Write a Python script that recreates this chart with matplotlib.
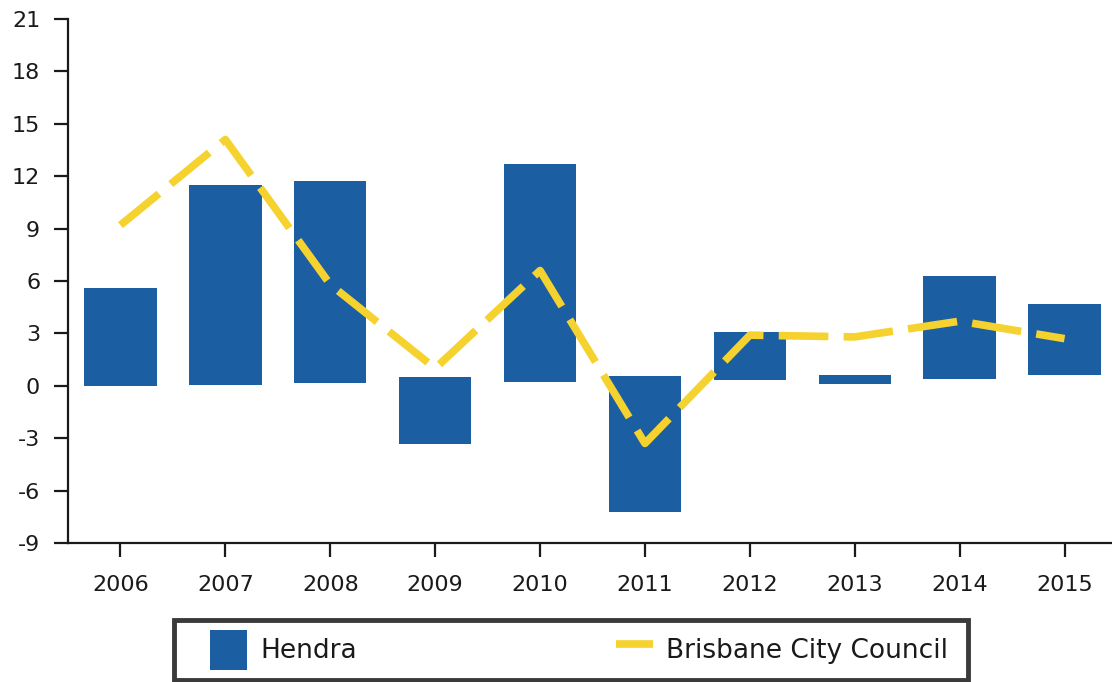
import matplotlib
matplotlib.use("Agg")
import matplotlib.pyplot as plt
from matplotlib.patches import Rectangle
import numpy as np

years = ["2006", "2007", "2008", "2009", "2010", "2011", "2012", "2013", "2014", "2015"]
hendra_top = [5.6, 11.5, 11.7, 0.5, 12.7, 0.55, 3.1, 0.6, 6.3, 4.7]
hendra_bottom = [0.0, 0.05, 0.15, -3.35, 0.2, -7.25, 0.35, 0.1, 0.4, 0.6]
brisbane = [9.2, 14.1, 5.8, 1.0, 6.6, -3.3, 2.9, 2.8, 3.7, 2.7]
yticks = [-9, -6, -3, 0, 3, 6, 9, 12, 15, 18, 21]

plt.rcParams['font.family'] = ['DejaVu Sans']

W, H = 1112, 682
fig = plt.figure(figsize=(W / 100, H / 100), dpi=100)
ax = fig.add_axes([68/W, 1 - 543/H, (1117 - 68)/W, 524/H])

x = np.arange(len(years))
heights = np.array(hendra_top) - np.array(hendra_bottom)
bars = ax.bar(x, heights, bottom=hendra_bottom, width=0.69, color="#1c5ea2",
              edgecolor="none", label="Hendra", zorder=2)
line, = ax.plot(x, brisbane, color="#f5d22e", lw=5.5, linestyle=(0, (6.5, 2.0)),
                dash_capstyle="butt", label="Brisbane City Council", zorder=3)

ax.set_xlim(-0.5, 9.5)
ax.set_ylim(-9, 21)
ax.set_yticks(yticks)
ax.set_yticklabels([str(v) for v in yticks])
ax.set_xticks(x)
ax.set_xticklabels(years)

for s in ["top", "right"]:
    ax.spines[s].set_visible(False)
for s in ["left", "bottom"]:
    ax.spines[s].set_linewidth(1.6)
    ax.spines[s].set_color("#1a1a1a")

ax.tick_params(axis="y", length=10, width=1.6, pad=10, labelsize=16, colors="#1a1a1a")
ax.tick_params(axis="x", length=10, width=1.6, pad=13, labelsize=16, colors="#1a1a1a")

# legend frame drawn separately
fig.patches.append(Rectangle((174/W, 2/H), (968 - 174)/W, (679 - 619)/H,
                             transform=fig.transFigure, fill=False,
                             edgecolor="#3a3a3a", linewidth=3.5, zorder=5))

leg = fig.legend(handles=[bars, line], labels=["Hendra", "Brisbane City Council"],
                 loc="center",
                 bbox_to_anchor=(210/W, 2/H, (948 - 210)/W, 60/H),
                 mode="expand", ncol=2, fontsize=19, frameon=False,
                 handlelength=1.4, handleheight=1.9, handletextpad=0.5,
                 borderpad=0.0, borderaxespad=0)
for t in leg.get_texts():
    t.set_color("#1a1a1a")

fig.savefig("out.png", dpi=100)
